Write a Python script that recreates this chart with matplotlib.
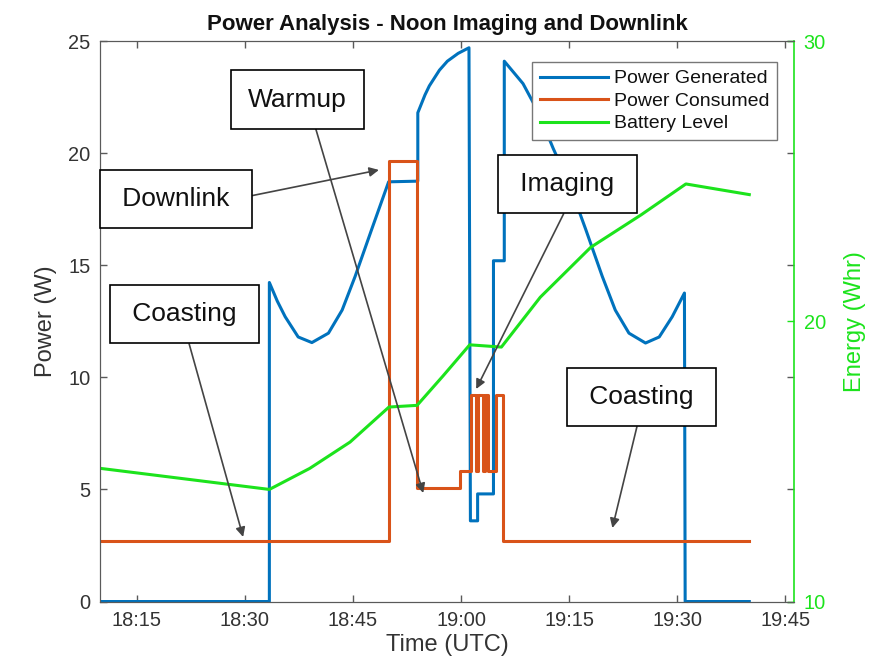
import matplotlib.pyplot as plt
import matplotlib.ticker as mtick

plt.rcParams["font.family"] = ["Liberation Sans", "DejaVu Sans"]

# all times are minutes after 18:00 UTC
genTime = [10.0, 33.4, 33.4, 34.5, 35.6, 37.4, 39.3, 41.6, 43.5, 45.3, 47.6, 49.95, 54.0,
           54.0, 55.0, 55.6, 57.0, 58.1, 59.6, 61.1, 61.3, 62.3, 62.3, 64.5, 64.5,
           66.0, 66.0, 68.6, 70.6, 72.8, 74.95, 77.3, 79.6, 81.4, 83.3, 85.6, 87.5,
           89.3, 91.0, 91.1, 100.0]
genPower = [0.0, 0.0, 14.23, 13.4, 12.7, 11.8, 11.55, 11.97, 13.0, 14.5, 16.6, 18.72, 18.75,
            21.8, 22.6, 23.0, 23.7, 24.1, 24.45, 24.7, 3.6, 3.6, 4.8, 4.8, 15.2,
            15.2, 24.1, 23.1, 21.9, 20.2, 18.67, 16.6, 14.5, 13.0, 11.97, 11.53, 11.8,
            12.7, 13.76, 0.0, 0.0]

useTime = [10.0, 49.95, 49.95, 53.9, 53.9, 59.9, 59.9, 61.43, 61.43, 62.13, 62.13,
           62.41, 62.41, 63.04, 63.04, 63.26, 63.26, 63.77, 63.77, 64.86, 64.86, 65.8,
           65.8, 100.0]
usePower = [2.7, 2.7, 19.65, 19.65, 5.05, 5.05, 5.8, 5.8, 9.22, 9.22, 5.8,
            5.8, 9.22, 9.22, 5.8, 5.8, 9.22, 9.22, 5.8, 5.8, 9.22, 9.22,
            2.7, 2.7]

batTime = [10.0, 33.4, 39.0, 44.6, 50.0, 53.9, 57.5, 61.2, 65.6, 71.0, 78.0, 85.0,
           91.2, 100.0]
batEnergy = [14.75, 14.0, 14.75, 15.69, 16.94, 17.0, 18.05, 19.16, 19.08, 20.86, 22.64,
             23.8, 24.9, 24.52]

tickMinutes = [15, 30, 45, 60, 75, 90, 105]
powerTicks = [0, 5, 10, 15, 20, 25]
energyTicks = [10, 20, 30]

# label, text centre (min, W), arrow target (min, W), arrow start on box
ts = "\u2009"
notes = [
  ("Warmup", (37.27, 22.39), (54.75, 4.84), (0.6, 0.5)),
  (ts + "Downlink" + ts, (20.46, 17.95), (48.6, 19.25), (1.0, 0.5)),
  (ts + "Imaging" + ts, (74.74, 18.62), (62.1, 9.48), (0.55, 0.0)),
  (ts + "Coasting" + ts, (21.58, 12.82), (29.76, 2.88), (0.5, 0.0)),
  (ts + "Coasting" + ts, (85.0, 9.12), (81.0, 3.28), (0.5, 0.0)),
]

blue = "#0072BD"
orange = "#D95319"
green = "#1CE31C"
axisColor = "#5a5a5a"
textColor = "#333333"

fig = plt.figure(figsize=(8.75, 6.66), dpi=100)
ax = fig.add_axes([0.1143, 0.0968, 0.7931, 0.8416])
ax2 = ax.twinx()

l1, = ax.plot(genTime, genPower, color=blue, linewidth=2.2, label="Power Generated")
l2, = ax.plot(useTime, usePower, color=orange, linewidth=2.2, label="Power Consumed")
l3, = ax2.plot(batTime, batEnergy, color=green, linewidth=2.2, label="Battery Level")

ax.set_xlim(9.9, 106.2)
ax.set_ylim(0, 25)
ax2.set_ylim(10, 30)

ax.set_xticks(tickMinutes)
ax.xaxis.set_major_formatter(
  mtick.FuncFormatter(lambda x, _: f"{18 + int(x) // 60}:{int(x) % 60:02d}"))
ax.set_yticks(powerTicks)
ax2.set_yticks(energyTicks)

ax.tick_params(axis="both", direction="in", length=5, width=1, colors=axisColor,
               labelcolor=textColor, labelsize=14.4, top=True, right=True, pad=7)
ax2.tick_params(axis="y", direction="in", length=5, width=1, colors=green,
                labelcolor=green, labelsize=14.4, pad=7)

for side in ["left", "top", "bottom"]:
  ax.spines[side].set_color(axisColor)
  ax2.spines[side].set_color(axisColor)
ax.spines["right"].set_visible(False)
ax2.spines["right"].set_color(green)
ax2.spines["right"].set_linewidth(1.2)

ax.set_xlabel("Time (UTC)", fontsize=17, color=textColor, labelpad=3)
ax.set_ylabel("Power (W)", fontsize=17, color=textColor, labelpad=8)
ax2.set_ylabel("Energy (Whr)", fontsize=17, color=green, labelpad=13)
ax.set_title("Power Analysis - Noon Imaging and Downlink", fontsize=16,
             fontweight="bold", color="#111111", pad=8)

leg = ax2.legend(handles=[l1, l2, l3], loc="upper right",
                 bbox_to_anchor=(0.9755, 0.9625), borderaxespad=0, fontsize=14,
                 handlelength=3.5, handletextpad=0.3, labelspacing=0.25,
                 borderpad=0.4, fancybox=False, framealpha=1)
leg.get_frame().set_edgecolor("#777777")
leg.get_frame().set_linewidth(1.0)
for t in leg.get_texts():
  t.set_color("#111111")

for label, textPos, target, rel in notes:
  ax2.annotate(
    label, xy=target, xycoords=ax.transData, xytext=textPos,
    textcoords=ax.transData, ha="center", va="center", fontsize=19,
    color="#111111",
    bbox=dict(boxstyle="square,pad=0.65", facecolor="white", edgecolor="black",
              linewidth=1.2),
    arrowprops=dict(arrowstyle="-|>", color="#444444", lw=1.2,
                    mutation_scale=14, shrinkA=0, shrinkB=0, relpos=rel),
    zorder=5,
  )

fig.savefig("out.png", dpi=100)
